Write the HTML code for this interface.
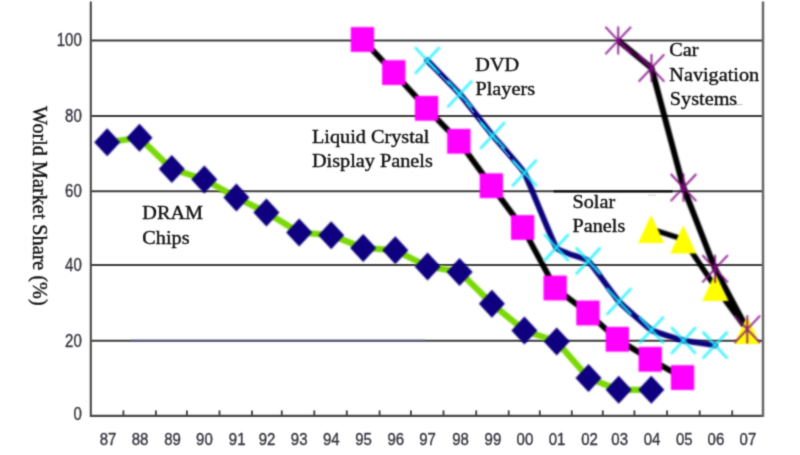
<!DOCTYPE html>
<html lang="en">
<head>
<meta charset="utf-8">
<title>World Market Share (%)</title>
<style>
html,body{margin:0;padding:0;background:#fff;}
body{width:800px;height:455px;overflow:hidden;position:relative;}
svg{position:absolute;left:0;top:0;display:block;}
.ax{font-family:"Liberation Sans",Arial,Helvetica,sans-serif;font-size:15px;fill:#34343e;stroke:#34343e;stroke-width:0.33px;}
.lb{font-family:"Liberation Serif","Times New Roman",Times,serif;font-size:20.2px;fill:#0e0e0e;stroke:#0e0e0e;stroke-width:0.38px;}
</style>
</head>
<body>
<svg width="800" height="455" viewBox="0 0 800 455">
<defs>
<filter id="bl" x="-5%" y="-5%" width="110%" height="110%" color-interpolation-filters="sRGB"><feConvolveMatrix order="7" kernelMatrix="0.00000 0.00006 0.00041 0.00076 0.00041 0.00006 0.00000 0.00006 0.00141 0.00897 0.01664 0.00897 0.00141 0.00006 0.00041 0.00897 0.05718 0.10600 0.05718 0.00897 0.00041 0.00076 0.01664 0.10600 0.19651 0.10600 0.01664 0.00076 0.00041 0.00897 0.05718 0.10600 0.05718 0.00897 0.00041 0.00006 0.00141 0.00897 0.01664 0.00897 0.00141 0.00006 0.00000 0.00006 0.00041 0.00076 0.00041 0.00006 0.00000" divisor="1" edgeMode="duplicate" preserveAlpha="false"/></filter>
<filter id="bg" x="-5%" y="-5%" width="110%" height="110%" color-interpolation-filters="sRGB"><feConvolveMatrix order="5" kernelMatrix="0.00001 0.00042 0.00170 0.00042 0.00001 0.00042 0.02740 0.10988 0.02740 0.00042 0.00170 0.10988 0.44065 0.10988 0.00170 0.00042 0.02740 0.10988 0.02740 0.00042 0.00001 0.00042 0.00170 0.00042 0.00001" divisor="1" edgeMode="duplicate" preserveAlpha="false"/></filter>
<filter id="bc" x="-5%" y="-5%" width="110%" height="110%" color-interpolation-filters="sRGB"><feConvolveMatrix order="7" kernelMatrix="0.00004 0.00040 0.00155 0.00244 0.00155 0.00040 0.00004 0.00040 0.00384 0.01497 0.02355 0.01497 0.00384 0.00040 0.00155 0.01497 0.05834 0.09182 0.05834 0.01497 0.00155 0.00244 0.02355 0.09182 0.14452 0.09182 0.02355 0.00244 0.00155 0.01497 0.05834 0.09182 0.05834 0.01497 0.00155 0.00040 0.00384 0.01497 0.02355 0.01497 0.00384 0.00040 0.00004 0.00040 0.00155 0.00244 0.00155 0.00040 0.00004" divisor="1" edgeMode="duplicate" preserveAlpha="false"/></filter>
<filter id="bd" x="-5%" y="-5%" width="110%" height="110%" color-interpolation-filters="sRGB"><feConvolveMatrix order="5" kernelMatrix="0.00001 0.00042 0.00170 0.00042 0.00001 0.00042 0.02740 0.10988 0.02740 0.00042 0.00170 0.10988 0.44065 0.10988 0.00170 0.00042 0.02740 0.10988 0.02740 0.00042 0.00001 0.00042 0.00170 0.00042 0.00001" divisor="1" edgeMode="duplicate" preserveAlpha="false"/></filter>
<filter id="bt" x="-5%" y="-5%" width="110%" height="110%" color-interpolation-filters="sRGB"><feConvolveMatrix order="7" kernelMatrix="0.00000 0.00000 0.00000 0.00000 0.00000 0.00000 0.00000 0.00000 0.00001 0.00062 0.00227 0.00062 0.00001 0.00000 0.00000 0.00062 0.03064 0.11253 0.03064 0.00062 0.00000 0.00000 0.00227 0.11253 0.41320 0.11253 0.00227 0.00000 0.00000 0.00062 0.03064 0.11253 0.03064 0.00062 0.00000 0.00000 0.00001 0.00062 0.00227 0.00062 0.00001 0.00000 0.00000 0.00000 0.00000 0.00000 0.00000 0.00000 0.00000" divisor="1" edgeMode="duplicate" preserveAlpha="false"/></filter>
</defs>
<rect x="0" y="0" width="800" height="455" fill="#ffffff"/>
<g filter="url(#bg)">

<g stroke="#3c3c3c" stroke-width="1.9" fill="none">
<line x1="90.8" y1="40.55" x2="763.0" y2="40.55"/>
<line x1="90.8" y1="116.0" x2="763.0" y2="116.0"/>
<line x1="90.8" y1="191.3" x2="763.0" y2="191.3"/>
<line x1="90.8" y1="265.0" x2="763.0" y2="265.0"/>
<line x1="90.8" y1="340.7" x2="763.0" y2="340.7"/>
</g>
<line x1="130" y1="340.7" x2="425" y2="340.7" stroke="#5c5c84" stroke-width="1.9"/>
<line x1="553.6" y1="191.3" x2="672.5" y2="191.3" stroke="#0a0a0a" stroke-width="2.2"/>
<g stroke="#4a4a4a" stroke-width="2.1" fill="none">
<line x1="90.8" y1="1.5" x2="90.8" y2="416.9"/>
<line x1="90.2" y1="415.9" x2="764.0" y2="415.9"/>
<line x1="763.0" y1="1.5" x2="763.0" y2="416.9" stroke="#6a6a6a" stroke-width="2.5"/>
</g>
<g stroke="#454545" stroke-width="1.9" fill="none">
<line x1="123.4" y1="410.4" x2="123.4" y2="415.9"/>
<line x1="155.9" y1="410.4" x2="155.9" y2="415.9"/>
<line x1="186.9" y1="410.4" x2="186.9" y2="415.9"/>
<line x1="219.5" y1="410.4" x2="219.5" y2="415.9"/>
<line x1="252.0" y1="410.4" x2="252.0" y2="415.9"/>
<line x1="281.8" y1="410.4" x2="281.8" y2="415.9"/>
<line x1="314.3" y1="410.4" x2="314.3" y2="415.9"/>
<line x1="346.8" y1="410.4" x2="346.8" y2="415.9"/>
<line x1="379.6" y1="410.4" x2="379.6" y2="415.9"/>
<line x1="410.9" y1="410.4" x2="410.9" y2="415.9"/>
<line x1="443.5" y1="410.4" x2="443.5" y2="415.9"/>
<line x1="476.2" y1="410.4" x2="476.2" y2="415.9"/>
<line x1="508.7" y1="410.4" x2="508.7" y2="415.9"/>
<line x1="539.8" y1="410.4" x2="539.8" y2="415.9"/>
<line x1="571.8" y1="410.4" x2="571.8" y2="415.9"/>
<line x1="602.8" y1="410.4" x2="602.8" y2="415.9"/>
<line x1="634.4" y1="410.4" x2="634.4" y2="415.9"/>
<line x1="667.1" y1="410.4" x2="667.1" y2="415.9"/>
<line x1="699.7" y1="410.4" x2="699.7" y2="415.9"/>
<line x1="732.2" y1="410.4" x2="732.2" y2="415.9"/>
</g>
</g>
<g filter="url(#bl)">
<path d="M107.2,142.2 L139.5,137.8 L171.8,168.9 L204.3,179.4 L236.4,197.5 L266.4,212.4 L299.2,232.5 L331.2,235.2 L363.2,248.0 L395.3,250.2 L427.6,266.4 L459.6,271.9 L491.9,303.8 L524.4,330.5 L556.7,341.6 L588.5,378.0 L618.7,389.8 L651.3,389.8" stroke="#7ad906" stroke-width="6.2" fill="none" stroke-linejoin="round"/>
<path d="M94.2,142.2 L107.2,128.2 L120.2,142.2 L107.2,156.2Z" fill="#0e007e"/>
<path d="M126.5,137.8 L139.5,123.8 L152.5,137.8 L139.5,151.8Z" fill="#0e007e"/>
<path d="M158.8,168.9 L171.8,154.9 L184.8,168.9 L171.8,182.9Z" fill="#0e007e"/>
<path d="M191.3,179.4 L204.3,165.4 L217.3,179.4 L204.3,193.4Z" fill="#0e007e"/>
<path d="M223.4,197.5 L236.4,183.5 L249.4,197.5 L236.4,211.5Z" fill="#0e007e"/>
<path d="M253.4,212.4 L266.4,198.4 L279.4,212.4 L266.4,226.4Z" fill="#0e007e"/>
<path d="M286.2,232.5 L299.2,218.5 L312.2,232.5 L299.2,246.5Z" fill="#0e007e"/>
<path d="M318.2,235.2 L331.2,221.2 L344.2,235.2 L331.2,249.2Z" fill="#0e007e"/>
<path d="M350.2,248.0 L363.2,234.0 L376.2,248.0 L363.2,262.0Z" fill="#0e007e"/>
<path d="M382.3,250.2 L395.3,236.2 L408.3,250.2 L395.3,264.2Z" fill="#0e007e"/>
<path d="M414.6,266.4 L427.6,252.4 L440.6,266.4 L427.6,280.4Z" fill="#0e007e"/>
<path d="M446.6,271.9 L459.6,257.9 L472.6,271.9 L459.6,285.9Z" fill="#0e007e"/>
<path d="M478.9,303.8 L491.9,289.8 L504.9,303.8 L491.9,317.8Z" fill="#0e007e"/>
<path d="M511.4,330.5 L524.4,316.5 L537.4,330.5 L524.4,344.5Z" fill="#0e007e"/>
<path d="M543.7,341.6 L556.7,327.6 L569.7,341.6 L556.7,355.6Z" fill="#0e007e"/>
<path d="M575.5,378.0 L588.5,364.0 L601.5,378.0 L588.5,392.0Z" fill="#0e007e"/>
<path d="M605.7,389.8 L618.7,375.8 L631.7,389.8 L618.7,403.8Z" fill="#0e007e"/>
<path d="M638.3,389.8 L651.3,375.8 L664.3,389.8 L651.3,403.8Z" fill="#0e007e"/>
<path d="M362.5,39.5 L393.8,72.6 L426.6,108.3 L458.8,141.3 L491.4,185.7 L522.6,227.5 L555.2,287.9 L588.0,313.0 L617.4,339.3 L650.3,359.3 L682.5,377.6" stroke="#000" stroke-width="5.7" fill="none" stroke-linejoin="round"/>
<rect x="350.8" y="27.1" width="23.3" height="24.8" fill="#ff00ff"/>
<rect x="382.1" y="60.2" width="23.3" height="24.8" fill="#ff00ff"/>
<rect x="414.9" y="95.9" width="23.3" height="24.8" fill="#ff00ff"/>
<rect x="447.2" y="128.9" width="23.3" height="24.8" fill="#ff00ff"/>
<rect x="479.7" y="173.3" width="23.3" height="24.8" fill="#ff00ff"/>
<rect x="511.0" y="215.1" width="23.3" height="24.8" fill="#ff00ff"/>
<rect x="543.5" y="275.6" width="23.3" height="24.8" fill="#ff00ff"/>
<rect x="576.3" y="300.6" width="23.3" height="24.8" fill="#ff00ff"/>
<rect x="605.7" y="326.9" width="23.3" height="24.8" fill="#ff00ff"/>
<rect x="638.6" y="346.9" width="23.3" height="24.8" fill="#ff00ff"/>
<rect x="670.9" y="365.2" width="23.3" height="24.8" fill="#ff00ff"/>
<path d="M427.3,60.5 C429.0,62.3 456.3,90.0 459.8,94.0 C463.3,98.0 489.2,131.3 492.6,135.5 C496.1,139.7 521.0,167.0 524.4,173.0 C527.8,179.0 553.0,242.9 556.4,247.6 C559.8,252.3 584.9,258.0 588.2,260.9 C591.5,263.8 615.6,297.8 619.0,301.5 C622.4,305.2 648.1,327.9 651.5,330.0 C655.0,332.1 680.2,339.7 683.5,340.5 C686.9,341.3 713.4,344.9 715.1,345.2" stroke="#0c047c" stroke-width="5.8" fill="none" stroke-linecap="round" stroke-linejoin="round"/>
</g><g filter="url(#bd)">
<path d="M427.3,60.5 C429.0,62.3 456.3,90.0 459.8,94.0 C463.3,98.0 489.2,131.3 492.6,135.5 C496.1,139.7 522.7,171.0 524.4,173.0" stroke="#3cc4e4" stroke-width="1.15" fill="none" stroke-dasharray="13 6" transform="translate(-0.5 0.5)"/>
</g><g filter="url(#bc)">
<path d="M415.0,47.2 L439.6,73.8 M415.0,73.8 L439.6,47.2" stroke="#1cf1ff" stroke-width="2.4" fill="none" opacity="0.95"/>
<path d="M447.5,80.7 L472.1,107.3 M447.5,107.3 L472.1,80.7" stroke="#1cf1ff" stroke-width="2.4" fill="none" opacity="0.95"/>
<path d="M480.3,122.2 L504.9,148.8 M480.3,148.8 L504.9,122.2" stroke="#1cf1ff" stroke-width="2.4" fill="none" opacity="0.95"/>
<path d="M512.1,159.7 L536.7,186.3 M512.1,186.3 L536.7,159.7" stroke="#1cf1ff" stroke-width="2.4" fill="none" opacity="0.95"/>
<path d="M544.1,234.3 L568.7,260.9 M544.1,260.9 L568.7,234.3" stroke="#1cf1ff" stroke-width="2.4" fill="none" opacity="0.95"/>
<path d="M575.9,247.6 L600.5,274.2 M575.9,274.2 L600.5,247.6" stroke="#1cf1ff" stroke-width="2.4" fill="none" opacity="0.95"/>
<path d="M606.7,288.2 L631.3,314.8 M606.7,314.8 L631.3,288.2" stroke="#1cf1ff" stroke-width="2.4" fill="none" opacity="0.95"/>
<path d="M639.2,316.7 L663.8,343.3 M639.2,343.3 L663.8,316.7" stroke="#1cf1ff" stroke-width="2.4" fill="none" opacity="0.95"/>
<path d="M671.2,327.2 L695.8,353.8 M671.2,353.8 L695.8,327.2" stroke="#1cf1ff" stroke-width="2.4" fill="none" opacity="0.95"/>
<path d="M702.8,331.9 L727.4,358.5 M702.8,358.5 L727.4,331.9" stroke="#1cf1ff" stroke-width="2.4" fill="none" opacity="0.95"/>
</g><g filter="url(#bl)">
<path d="M651.1,229.0 L683.2,239.3 L715.3,287.0 L747.1,330.0" stroke="#000" stroke-width="5.4" fill="none" stroke-linejoin="round"/>
<path d="M618.2,40.5 L651.5,68.0 L683.5,187.6 L715.1,268.8 L747.3,329.3" stroke="#000" stroke-width="5.9" fill="none" stroke-linejoin="round"/>
<path d="M618.2,40.5 L651.5,68.0" stroke="#5a0060" stroke-width="3" fill="none" stroke-linecap="round" opacity="0.7"/>
<path d="M651.1,214.9 L664.1,243.1 L638.1,243.1Z" fill="#ffff00"/>
<path d="M683.2,225.2 L696.2,253.4 L670.2,253.4Z" fill="#ffff00"/>
<path d="M715.3,272.9 L728.3,301.1 L702.3,301.1Z" fill="#ffff00"/>
<path d="M747.1,315.9 L760.1,344.1 L734.1,344.1Z" fill="#ffff00"/>
<path d="M605.4,26.9 L631.0,54.1 M605.4,54.1 L631.0,26.9 M618.2,26.4 L618.2,54.6" stroke="#840c84" stroke-width="1.85" fill="none" opacity="0.92"/>
<path d="M638.7,54.4 L664.3,81.6 M638.7,81.6 L664.3,54.4 M651.5,53.9 L651.5,82.1" stroke="#840c84" stroke-width="1.85" fill="none" opacity="0.92"/>
<path d="M670.7,174.0 L696.3,201.2 M670.7,201.2 L696.3,174.0 M683.5,173.5 L683.5,201.7" stroke="#840c84" stroke-width="1.85" fill="none" opacity="0.92"/>
<path d="M702.3,255.2 L727.9,282.4 M702.3,282.4 L727.9,255.2 M715.1,254.7 L715.1,282.9" stroke="#840c84" stroke-width="1.85" fill="none" opacity="0.92"/>
<path d="M734.5,315.7 L760.1,342.9 M734.5,342.9 L760.1,315.7 M747.3,315.2 L747.3,343.4" stroke="#840c84" stroke-width="1.85" fill="none" opacity="0.92"/>
</g>
<g filter="url(#bt)">
<text class="ax" x="81.8" y="5.4" text-anchor="end" transform="translate(0 39.6) scale(1 1.22)">100</text>
<text class="ax" x="81.8" y="5.4" text-anchor="end" transform="translate(0 115.1) scale(1 1.22)">80</text>
<text class="ax" x="81.8" y="5.4" text-anchor="end" transform="translate(0 190.6) scale(1 1.22)">60</text>
<text class="ax" x="81.8" y="5.4" text-anchor="end" transform="translate(0 264.5) scale(1 1.22)">40</text>
<text class="ax" x="81.8" y="5.4" text-anchor="end" transform="translate(0 340.4) scale(1 1.22)">20</text>
<text class="ax" x="81.8" y="5.4" text-anchor="end" transform="translate(0 413.4) scale(1 1.22)">0</text>
<text class="ax" x="108.0" y="5.4" text-anchor="middle" transform="translate(0 438.65) scale(1 1.16)">87</text>
<text class="ax" x="140.1" y="5.4" text-anchor="middle" transform="translate(0 438.65) scale(1 1.16)">88</text>
<text class="ax" x="172.6" y="5.4" text-anchor="middle" transform="translate(0 438.65) scale(1 1.16)">89</text>
<text class="ax" x="204.4" y="5.4" text-anchor="middle" transform="translate(0 438.65) scale(1 1.16)">90</text>
<text class="ax" x="237.2" y="5.4" text-anchor="middle" transform="translate(0 438.65) scale(1 1.16)">91</text>
<text class="ax" x="267.1" y="5.4" text-anchor="middle" transform="translate(0 438.65) scale(1 1.16)">92</text>
<text class="ax" x="299.2" y="5.4" text-anchor="middle" transform="translate(0 438.65) scale(1 1.16)">93</text>
<text class="ax" x="331.3" y="5.4" text-anchor="middle" transform="translate(0 438.65) scale(1 1.16)">94</text>
<text class="ax" x="363.5" y="5.4" text-anchor="middle" transform="translate(0 438.65) scale(1 1.16)">95</text>
<text class="ax" x="395.8" y="5.4" text-anchor="middle" transform="translate(0 438.65) scale(1 1.16)">96</text>
<text class="ax" x="427.6" y="5.4" text-anchor="middle" transform="translate(0 438.65) scale(1 1.16)">97</text>
<text class="ax" x="460.6" y="5.4" text-anchor="middle" transform="translate(0 438.65) scale(1 1.16)">98</text>
<text class="ax" x="492.9" y="5.4" text-anchor="middle" transform="translate(0 438.65) scale(1 1.16)">99</text>
<text class="ax" x="524.9" y="5.4" text-anchor="middle" transform="translate(0 438.65) scale(1 1.16)">00</text>
<text class="ax" x="557.0" y="5.4" text-anchor="middle" transform="translate(0 438.65) scale(1 1.16)">01</text>
<text class="ax" x="589.5" y="5.4" text-anchor="middle" transform="translate(0 438.65) scale(1 1.16)">02</text>
<text class="ax" x="619.7" y="5.4" text-anchor="middle" transform="translate(0 438.65) scale(1 1.16)">03</text>
<text class="ax" x="652.1" y="5.4" text-anchor="middle" transform="translate(0 438.65) scale(1 1.16)">04</text>
<text class="ax" x="684.3" y="5.4" text-anchor="middle" transform="translate(0 438.65) scale(1 1.16)">05</text>
<text class="ax" x="715.9" y="5.4" text-anchor="middle" transform="translate(0 438.65) scale(1 1.16)">06</text>
<text class="ax" x="747.9" y="5.4" text-anchor="middle" transform="translate(0 438.65) scale(1 1.16)">07</text>
<text class="lb" transform="translate(32.5 106) rotate(90)" x="0" y="0">World Market Share (%)</text>
<text class="lb" transform="translate(475.3 70.5) scale(1.043 1)" style="font-size:19.4px">DVD</text>
<text class="lb" transform="translate(475.5 95.1) scale(1.043 1)" style="font-size:19.4px">Players</text>
<text class="lb" transform="translate(312 142.9) scale(1.043 1)" style="font-size:19.4px">Liquid Crystal</text>
<text class="lb" transform="translate(312 166.8) scale(1.043 1)" style="font-size:19.4px">Display Panels</text>
<text class="lb" transform="translate(142.3 218.9) scale(1.043 1)" style="font-size:19.4px">DRAM</text>
<text class="lb" transform="translate(142.3 243.5) scale(1.043 1)" style="font-size:19.4px">Chips</text>
<text class="lb" transform="translate(572.5 207.5) scale(1.043 1)" style="font-size:19.4px">Solar</text>
<text class="lb" transform="translate(572.5 232.3) scale(1.043 1)" style="font-size:19.4px">Panels</text>
<line x1="736" y1="104.6" x2="742.5" y2="104.6" stroke="#b8b8b8" stroke-width="1"/>
<line x1="648" y1="195.3" x2="656" y2="195.3" stroke="#d0d0d0" stroke-width="1"/>
<text class="lb" transform="translate(669.3 56.3) scale(1.043 1)" style="font-size:19.4px">Car</text>
<text class="lb" transform="translate(669.3 80.9) scale(1.043 1)" style="font-size:19.4px">Navigation</text>
<text class="lb" transform="translate(669.8 105.1) scale(1.043 1)" style="font-size:19.4px">Systems</text>
</g>
</svg>
</body>
</html>
